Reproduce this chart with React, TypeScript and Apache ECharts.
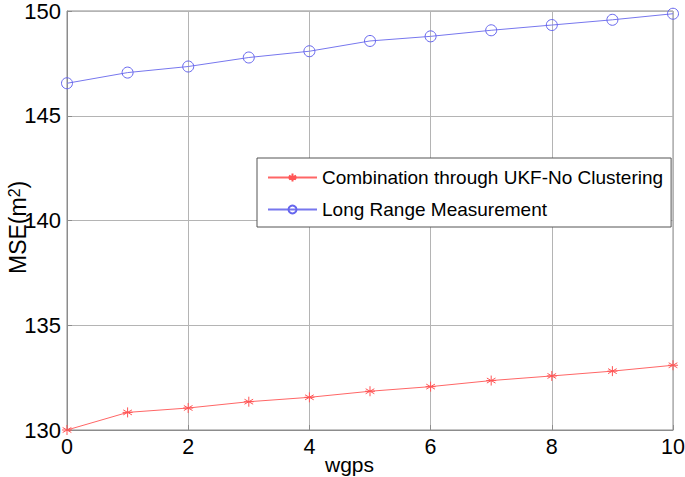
import React, { useEffect, useRef } from "react";
import * as echarts from "echarts";

const xValues = [0, 1, 2, 3, 4, 5, 6, 7, 8, 9, 10];
const ukfValues = [130.0, 130.84, 131.05, 131.35, 131.56, 131.85, 132.07, 132.36, 132.58, 132.81, 133.09];
const longRangeValues = [146.55, 147.06, 147.35, 147.78, 148.08, 148.57, 148.79, 149.08, 149.33, 149.58, 149.87];
const seriesNames = ["Combination through UKF-No Clustering", "Long Range Measurement"];
const xAxisTitle = "wgps";
const yAxisTitle = "MSE(m{sup|2})";

const FONT = "'Liberation Sans', Arial, sans-serif";
const STAR = "path://M0,-5L0,5M-4.33,-2.5L4.33,2.5M-4.33,2.5L4.33,-2.5M-5,0L5,0";

export default function App() {
  const ref = useRef<HTMLDivElement>(null);
  useEffect(() => {
    if (!ref.current) return;
    const chart = echarts.init(ref.current, undefined, { renderer: "svg" });
    chart.setOption({
      animation: false,
      backgroundColor: "#fff",
      grid: {
        left: 67, right: 12, top: 11, bottom: 47,
        outerBoundsMode: "none",
        show: true, borderColor: "#8c8c8c", borderWidth: 1,
      },
      xAxis: {
        type: "value",
        min: 0,
        max: 10,
        interval: 2,
        axisLine: { show: true, lineStyle: { color: "#8c8c8c" } },
        axisTick: { show: true, inside: true, length: 5, lineStyle: { color: "#8c8c8c" } },
        axisLabel: { fontFamily: FONT, fontSize: 21.5, color: "#000", margin: 6 },
        splitLine: { show: true, lineStyle: { color: "#b4b4b4", width: 1 } },
      },
      yAxis: {
        type: "value",
        min: 130,
        max: 150,
        interval: 5,
        axisLine: { show: true, lineStyle: { color: "#8c8c8c" } },
        axisTick: { show: true, inside: true, length: 5, lineStyle: { color: "#8c8c8c" } },
        axisLabel: { fontFamily: FONT, fontSize: 22, color: "#000", margin: 6 },
        splitLine: { show: true, lineStyle: { color: "#b4b4b4", width: 1 } },
      },
      graphic: [
        {
          type: "text",
          left: 348 - 23,
          top: 454,
          style: { text: xAxisTitle, font: `21px ${FONT}`, fill: "#000" },
        },
        {
          type: "text",
          x: 18,
          y: 274,
          rotation: Math.PI / 2,
          style: {
            text: yAxisTitle,
            fontFamily: "Liberation Sans, Arial, sans-serif",
            fontSize: 23,
            fill: "#000",
            textVerticalAlign: "middle",
            rich: { sup: { fontFamily: "Liberation Sans, Arial, sans-serif", fontSize: 16, fill: "#000", verticalAlign: "top" } },
          },
        },
      ],
      legend: {
        orient: "vertical",
        left: 257,
        top: 158,
        backgroundColor: "#fff",
        borderColor: "#555",
        borderWidth: 1,
        borderRadius: 0,
        padding: [10, 8, 8, 10],
        itemWidth: 49,
        itemHeight: 10,
        itemGap: 13,
        textStyle: { fontFamily: FONT, fontSize: 19, color: "#000" },
        data: seriesNames,
      },
      series: [
        {
          name: seriesNames[0],
          type: "line",
          data: xValues.map((x, i) => [x, ukfValues[i]]),
          symbol: STAR,
          symbolSize: 10,
          lineStyle: { color: "#ff6666", width: 1 },
          itemStyle: { color: "rgba(0,0,0,0)", borderColor: "#ff5555", borderWidth: 1 },
        },
        {
          name: seriesNames[1],
          type: "line",
          data: xValues.map((x, i) => [x, longRangeValues[i]]),
          symbol: "circle",
          symbolSize: 11,
          lineStyle: { color: "#7777ee", width: 1 },
          itemStyle: { color: "rgba(0,0,0,0)", borderColor: "#6666ee", borderWidth: 1 },
        },
      ],
    });
    return () => chart.dispose();
  }, []);
  return <div ref={ref} style={{ width: 685, height: 477, position: "absolute", left: 0, top: 0 }} />;
}
